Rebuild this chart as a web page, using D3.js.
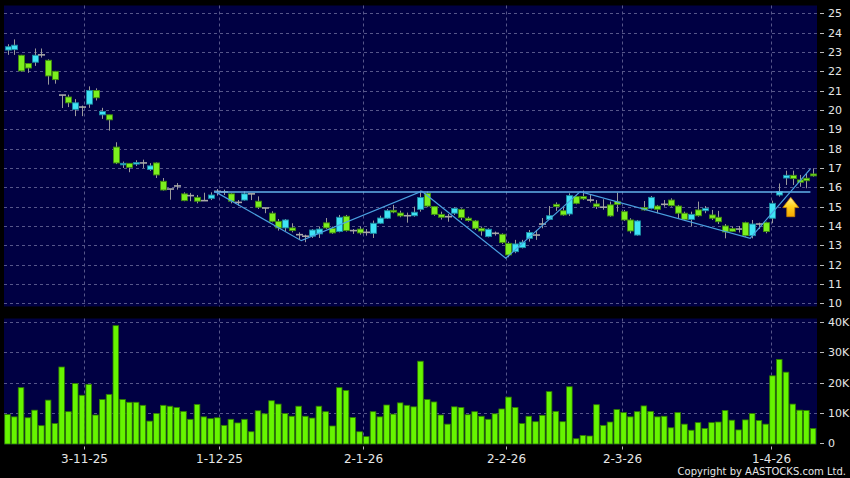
<!DOCTYPE html>
<html><head><meta charset="utf-8">
<script src="https://cdn.jsdelivr.net/npm/d3@7"></script>
<style>html,body{margin:0;padding:0;background:#000;} svg{display:block}</style>
</head><body><svg id="c" width="850" height="478"></svg>
<script>
const opens = [23.1,23.12,22.83,22.4,22.47,22.85,22.57,22.0,20.77,20.67,
 20.03,20.15,20.30,21.01,19.75,19.75,18.08,17.17,17.24,17.2,
 17.26,16.92,17.26,16.31,15.91,16.07,15.66,15.57,15.48,15.31,
 15.43,15.79,15.76,15.66,15.22,15.34,15.66,15.28,14.93,14.66,
 14.24,13.9,13.9,13.55,13.47,13.47,13.59,14.16,13.88,13.71,
 14.5,13.76,13.84,13.67,13.62,14.14,14.4,14.81,14.67,14.53,
 14.53,14.86,15.69,15.0,14.6,14.48,14.66,14.86,14.4,14.26,
 13.88,13.45,13.62,13.57,13.1,12.67,12.88,13.36,13.53,14.1,
 14.34,15.12,14.79,14.62,15.52,15.52,15.34,15.14,14.97,15.09,
 15.26,14.74,14.31,13.53,14.95,14.91,15.03,15.12,15.34,15.03,
 14.66,14.34,14.83,14.79,14.57,14.45,14.0,13.86,13.84,14.17,
 13.5,14.1,14.17,14.4,15.6,16.48,16.62,16.38,16.47,16.69];
const closes = [23.27,23.35,22.02,22.17,22.83,22.85,21.76,21.57,20.77,20.37,
 20.37,20.15,21.01,20.63,19.92,19.49,17.26,17.24,17.03,17.28,
 17.26,17.11,16.64,15.86,15.91,16.07,15.31,15.57,15.28,15.31,
 15.6,15.79,15.76,15.28,15.22,15.66,15.66,14.97,14.93,14.24,
 13.9,14.31,13.76,13.55,13.47,13.79,13.84,13.9,13.64,14.45,
 13.76,13.76,13.64,13.67,14.14,14.41,14.79,14.72,14.52,14.53,
 14.71,15.47,15.03,14.6,14.45,14.48,14.91,14.43,14.28,13.88,
 13.74,13.83,13.62,13.14,12.5,13.07,13.16,13.66,13.53,14.1,
 14.53,15.0,14.57,15.57,15.17,15.4,15.34,15.0,14.97,14.52,
 15.12,14.31,13.74,14.26,14.83,15.48,14.86,15.12,15.05,14.66,
 14.34,14.6,14.53,14.91,14.4,14.22,13.69,13.72,13.84,13.5,
 14.1,14.1,13.71,15.17,15.78,16.62,16.45,16.26,16.34,16.59];
const highs = [23.4,23.65,22.85,22.42,23.18,23.18,22.62,22.02,20.78,20.79,
 20.56,20.23,21.22,21.12,20.11,19.75,18.33,17.33,17.24,17.4,
 17.43,17.25,17.29,16.48,15.92,16.22,15.74,15.71,15.6,15.72,
 15.74,15.91,15.88,15.69,15.34,15.79,15.67,15.53,14.94,14.76,
 14.36,14.36,14.14,13.67,13.55,13.84,13.97,14.41,13.97,14.57,
 14.57,13.84,13.97,13.84,14.28,14.53,14.88,15.09,14.79,14.69,
 15.0,15.83,15.78,15.03,14.74,14.62,14.97,14.91,14.48,14.31,
 13.97,13.88,13.71,13.62,13.19,13.28,13.28,13.79,13.79,14.41,
 15.03,15.22,14.97,15.69,15.57,15.83,15.6,15.34,15.38,15.26,
 15.72,14.83,14.4,14.31,15.29,15.55,15.09,15.34,15.43,15.09,
 14.74,14.74,15.26,15.03,14.83,14.78,14.1,13.97,14.0,14.22,
 14.31,14.17,14.22,15.31,16.2,16.86,16.86,16.64,16.69,16.98];
const lows = [22.85,22.85,21.98,21.92,22.28,22.71,21.31,21.36,20.1,20.15,
 19.68,19.68,20.11,20.49,19.54,18.93,17.2,17.0,16.78,17.1,
 17.0,16.85,16.48,15.83,15.36,15.88,15.28,15.28,15.17,15.31,
 15.34,15.57,15.6,15.17,15.05,15.31,15.34,14.88,14.66,14.19,
 13.76,13.72,13.67,13.28,13.16,13.38,13.38,13.84,13.59,13.67,
 13.71,13.59,13.55,13.5,13.38,14.1,14.36,14.66,14.45,14.17,
 14.48,14.74,14.97,14.53,14.33,14.22,14.57,14.31,14.22,13.79,
 13.5,13.41,13.5,13.07,12.38,12.59,12.84,13.19,13.28,13.88,
 14.31,14.78,14.53,14.52,15.12,15.34,15.22,14.88,14.84,14.48,
 14.74,14.26,13.62,13.5,14.79,14.86,14.66,15.0,15.0,14.4,
 14.28,13.97,14.48,14.66,14.31,14.1,13.36,13.69,13.66,13.45,
 13.36,13.84,13.62,14.14,15.52,16.12,16.12,16.03,15.95,16.55];
const volumesK = [9.5,8.7,18.3,8.4,10.9,5.8,14.2,6.5,25.1,10.4,
 19.7,15.8,19.4,9.3,14.4,16.1,38.7,14.4,13.5,13.5,
 12.5,7.3,9.8,12.5,12.2,11.8,10.5,7.9,12.8,8.7,
 8.1,8.4,5.9,7.9,6.7,7.9,3.8,10.7,9.7,14.0,
 12.9,9.8,8.9,12.2,8.9,8.3,12.2,10.4,5.7,18.3,
 17.4,8.5,3.8,2.2,10.4,8.7,12.6,9.6,13.3,12.5,
 12.0,27.0,14.4,13.6,9.3,6.3,12.0,11.8,9.4,10.4,
 8.9,7.9,9.7,11.3,15.2,11.8,6.5,8.9,7.1,9.2,
 17.0,10.5,7.1,18.6,1.5,2.6,2.4,12.7,5.9,7.0,
 11.1,10.1,8.7,10.4,12.3,10.5,8.7,8.9,5.1,10.1,
 6.3,4.3,6.8,4.9,6.8,7.0,10.8,7.6,4.4,7.7,
 9.8,7.5,6.3,22.2,27.6,23.4,12.9,10.9,10.8,4.9];
const dateLabels = ["3-11-25","1-12-25","2-1-26","2-2-26","2-3-26","1-4-26"];
const dateLabelIdx = [11.3, 31.25, 52.5, 73.6, 90.7, 112.8];
const priceTicks = [10,11,12,13,14,15,16,17,18,19,20,21,22,23,24,25];
const volTicks = [0,10000,20000,30000,40000];
const volTickLabels = ["0","10K","20K","30K","40K"];
// drawn annotations (index, price)
const resistIdx = [30.5, 118.6];
const resistPrice = 15.76;
const zigIdx = [30.6, 43.4, 61.2, 73.6, 84.6, 109.7, 118.6];
const zigPrice = [15.79, 13.24, 15.8, 12.33, 15.78, 13.36, 16.95];
const arrowIdx = 115.7, arrowTip = 15.48, arrowHeadBase = 14.95, arrowBottom = 14.48;

const svg = d3.select("#c");
const W = 850, H = 478;
svg.append("rect").attr("width",W).attr("height",H).attr("fill","#000");
const plotL = 4, plotR = 817;
const pTop = 5.5, pBot = 306.5, vTop = 318.5, vBot = 444.5;
const navy = "#000043";
svg.append("rect").attr("x",plotL).attr("y",pTop).attr("width",plotR-plotL).attr("height",pBot-pTop).attr("fill",navy);
svg.append("rect").attr("x",plotL).attr("y",vTop).attr("width",plotR-plotL).attr("height",vBot-vTop).attr("fill",navy);

const x = d3.scaleLinear().domain([0,119]).range([7.5,813.1]);
const y = d3.scaleLinear().domain([10,25]).range([303.3,13.3]);
const yv = d3.scaleLinear().domain([0,40000]).range([443.3,321.7]);

const gridCol = "#56568a";
const g = svg.append("g");
// horizontal grids
g.selectAll(".hp").data(priceTicks).join("line")
  .attr("x1",plotL).attr("x2",plotR)
  .attr("y1",d=>Math.round(y(d))+0.5).attr("y2",d=>Math.round(y(d))+0.5)
  .attr("stroke",gridCol).attr("stroke-dasharray","3,3");
g.selectAll(".hv").data(volTicks.slice(1)).join("line")
  .attr("x1",plotL).attr("x2",plotR)
  .attr("y1",d=>Math.round(yv(d))+0.5).attr("y2",d=>Math.round(yv(d))+0.5)
  .attr("stroke",gridCol).attr("stroke-dasharray","3,3");
// vertical grids
dateLabelIdx.forEach(i=>{
  const xx = Math.round(x(i))+0.5;
  g.append("line").attr("x1",xx).attr("x2",xx).attr("y1",pTop).attr("y2",pBot)
   .attr("stroke",gridCol).attr("stroke-dasharray","3,3");
  g.append("line").attr("x1",xx).attr("x2",xx).attr("y1",vTop).attr("y2",vBot)
   .attr("stroke",gridCol).attr("stroke-dasharray","3,3");
});

// volume bars
svg.append("g").selectAll("rect").data(volumesK).join("rect")
  .attr("x",(d,i)=>x(i)-2.8).attr("width",5.6)
  .attr("y",d=>yv(d*1000)).attr("height",d=>yv(0)-yv(d*1000)+0.7)
  .attr("fill","#66f500").attr("stroke","#2f7a00").attr("stroke-width",0.8);

// candles
const cg = svg.append("g");
const idx = d3.range(opens.length);
cg.selectAll(".wick").data(idx).join("line")
  .attr("x1",i=>Math.round(x(i))+0.5).attr("x2",i=>Math.round(x(i))+0.5)
  .attr("y1",i=>y(highs[i])).attr("y2",i=>y(lows[i]))
  .attr("stroke","#9a9a9a").attr("stroke-width",1);
idx.forEach(i=>{
  const o = opens[i], c = closes[i];
  const cx = Math.round(x(i))+0.5;
  if (Math.abs(c-o) < 0.02) {
    cg.append("line").attr("x1",cx-3.5).attr("x2",cx+3.5)
      .attr("y1",y(o)).attr("y2",y(o)).attr("stroke","#a8a8a8").attr("stroke-width",1.6);
  } else {
    const up = c > o;
    const top = y(Math.max(o,c)), bot = y(Math.min(o,c));
    cg.append("rect").attr("x",cx-3).attr("width",6)
      .attr("y",top).attr("height",Math.max(bot-top,1.5))
      .attr("fill", up ? "#3fe3f5" : "#7cf01e")
      .attr("stroke", up ? "#1a8aa0" : "#3f8a10").attr("stroke-width",0.9);
  }
});

// annotation lines
svg.append("line").attr("x1",x(resistIdx[0])).attr("x2",x(resistIdx[1]))
  .attr("y1",y(resistPrice)).attr("y2",y(resistPrice))
  .attr("stroke","#62b2ea").attr("stroke-width",1.4);
svg.append("path").datum(zigIdx.map((d,k)=>[d,zigPrice[k]]))
  .attr("d",d3.line().x(d=>x(d[0])).y(d=>y(d[1])))
  .attr("fill","none").attr("stroke","#4aa0e0").attr("stroke-width",1.2);

// arrow
const defs = svg.append("defs");
const grad = defs.append("linearGradient").attr("id","ag").attr("x1",0).attr("x2",0).attr("y1",0).attr("y2",1);
grad.append("stop").attr("offset","0%").attr("stop-color","#fff4a0");
grad.append("stop").attr("offset","45%").attr("stop-color","#ffd21e");
grad.append("stop").attr("offset","100%").attr("stop-color","#f5a800");
const ax = x(arrowIdx), at = y(arrowTip), ab = y(arrowHeadBase), abot = y(arrowBottom);
svg.append("path")
  .attr("d",`M${ax},${at} L${ax+8},${ab} L${ax+4},${ab} L${ax+4},${abot} L${ax-4},${abot} L${ax-4},${ab} L${ax-8},${ab} Z`)
  .attr("fill","url(#ag)").attr("stroke","#c88000").attr("stroke-width",0.8);

// right axes
const txtCol = "#e6e6e6";
const font = "DejaVu Sans, Verdana, sans-serif";
const ra = svg.append("g");
priceTicks.forEach(t=>{
  const yy = Math.round(y(t))+0.5;
  ra.append("line").attr("x1",820).attr("x2",824).attr("y1",yy).attr("y2",yy).attr("stroke","#bbbbbb");
  ra.append("text").attr("x",828).attr("y",yy).attr("dy","0.36em").text(t)
    .attr("fill",txtCol).attr("font-family",font).attr("font-size",11);
});
volTicks.forEach((t,k)=>{
  const yy = Math.round(yv(t))+0.5;
  ra.append("line").attr("x1",820).attr("x2",824).attr("y1",yy).attr("y2",yy).attr("stroke","#bbbbbb");
  ra.append("text").attr("x",828).attr("y",yy).attr("dy","0.36em").text(volTickLabels[k])
    .attr("fill",txtCol).attr("font-family",font).attr("font-size",11);
});
// bottom axis
dateLabelIdx.forEach((i,k)=>{
  const xx = Math.round(x(i))+0.5;
  svg.append("line").attr("x1",xx).attr("x2",xx).attr("y1",446.5).attr("y2",449.5).attr("stroke","#bbbbbb");
  svg.append("text").attr("x",xx).attr("y",462.5).attr("text-anchor","middle").text(dateLabels[k])
    .attr("fill",txtCol).attr("font-family",font).attr("font-size",12);
});
svg.append("text").attr("x",846).attr("y",474.5).attr("text-anchor","end")
  .text("Copyright by AASTOCKS.com Ltd.")
  .attr("fill",txtCol).attr("font-family",font).attr("font-size",10);
</script></body></html>
